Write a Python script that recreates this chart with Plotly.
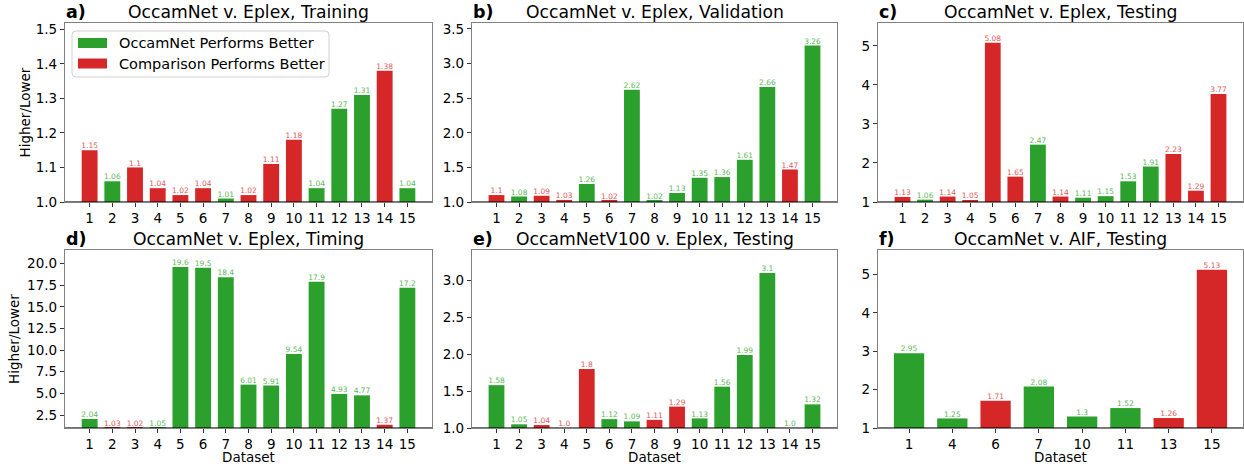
import plotly.graph_objects as go

# ---------------- data ----------------
datasets = list(range(1, 16))

train_vals = [1.15, 1.06, 1.1, 1.04, 1.02, 1.04, 1.01, 1.02, 1.11, 1.18, 1.04, 1.27, 1.31, 1.38, 1.04]
train_better = [0, 1, 0, 0, 0, 0, 1, 0, 0, 0, 1, 1, 1, 0, 1]

val_vals = [1.1, 1.08, 1.09, 1.03, 1.26, 1.02, 2.62, 1.02, 1.13, 1.35, 1.36, 1.61, 2.66, 1.47, 3.26]
val_better = [0, 1, 0, 0, 1, 0, 1, 1, 1, 1, 1, 1, 1, 0, 1]

test_vals = [1.13, 1.06, 1.14, 1.05, 5.08, 1.65, 2.47, 1.14, 1.11, 1.15, 1.53, 1.91, 2.23, 1.29, 3.77]
test_better = [0, 1, 0, 0, 0, 0, 1, 0, 1, 1, 1, 1, 0, 0, 0]

time_vals = [2.04, 1.03, 1.02, 1.05, 19.6, 19.5, 18.4, 6.01, 5.91, 9.54, 17.9, 4.93, 4.77, 1.37, 17.2]
time_better = [1, 0, 0, 1, 1, 1, 1, 1, 1, 1, 1, 1, 1, 0, 1]

v100_vals = [1.58, 1.05, 1.04, 1.0, 1.8, 1.12, 1.09, 1.11, 1.29, 1.13, 1.56, 1.99, 3.1, 1.0, 1.32]
v100_better = [1, 1, 0, 0, 0, 1, 1, 0, 0, 1, 1, 1, 1, 1, 1]

aif_datasets = [1, 4, 6, 7, 10, 11, 13, 15]
aif_vals = [2.95, 1.25, 1.71, 2.08, 1.3, 1.52, 1.26, 5.13]
aif_better = [1, 1, 0, 1, 1, 1, 0, 0]

titles = ["OccamNet v. Eplex, Training", "OccamNet v. Eplex, Validation",
          "OccamNet v. Eplex, Testing", "OccamNet v. Eplex, Timing",
          "OccamNetV100 v. Eplex, Testing", "OccamNet v. AIF, Testing"]
letters = ["a)", "b)", "c)", "d)", "e)", "f)"]
legend_names = ["OccamNet Performs Better", "Comparison Performs Better"]
ylabel = "Higher/Lower"
xlabel = "Dataset"

# ---------------- style ----------------
W, H = 1244, 467
GREEN, RED = "#2ca02c", "#d62728"
GREEN_T, RED_T = "#5cb85c", "#e05a5b"
FONT = "DejaVu Sans"
TICK_FS = 13.5

# pixel boxes (left, right, top, bottom)
cols = [(65, 432), (472, 837), (878, 1243)]
rows = [(23, 202), (250, 428)]
ylabel_x = [24, 14]

panels = [
    (datasets, train_vals, train_better, dict(dtick=0.1, tickformat=".1f")),
    (datasets, val_vals, val_better, dict(dtick=0.5, tickformat=".1f")),
    (datasets, test_vals, test_better, dict(dtick=1, tickformat="d")),
    (datasets, time_vals, time_better, dict(tick0=0, dtick=2.5, tickformat=".1f")),
    (datasets, v100_vals, v100_better, dict(dtick=0.5, tickformat=".1f")),
    (aif_datasets, aif_vals, aif_better, dict(dtick=1, tickformat="d")),
]


def py(p):
    return 1 - p / H


def pxx(p):
    return p / W


fig = go.Figure()
layout = dict(width=W, height=H, margin=dict(l=0, r=0, t=0, b=0, autoexpand=False),
              plot_bgcolor="white", paper_bgcolor="white", template="none",
              barmode="overlay", font=dict(family=FONT, color="black"),
              showlegend=False)
annotations = []
shapes = []

for i, (xs, vals, better, yfmt) in enumerate(panels):
    r, c = divmod(i, 3)
    xl, xr = cols[c]
    yt, yb = rows[r]
    sfx = "" if i == 0 else str(i + 1)
    xa, ya = "x" + sfx, "y" + sfx

    if i == 5:
        pos = list(range(len(xs)))
        xrange = [-0.35 - 0.3675, len(xs) - 1 + 0.35 + 0.3675]
    else:
        pos = list(xs)
        xrange = [0.65 - 0.735, 15.35 + 0.735]

    for flag, color, tcolor, name in [(1, GREEN, GREEN_T, legend_names[0]),
                                      (0, RED, RED_T, legend_names[1])]:
        px_ = [p for p, b in zip(pos, better) if b == flag]
        py_ = [v for v, b in zip(vals, better) if b == flag]
        fig.add_trace(go.Bar(x=px_, y=[v - 1 for v in py_], base=1, width=0.7,
                             marker=dict(color=color, line=dict(width=0)),
                             name=name, xaxis=xa, yaxis=ya))
        fig.add_trace(go.Scatter(x=px_, y=py_, mode="text",
                                 text=[str(v) for v in py_],
                                 textposition="top center",
                                 textfont=dict(size=7.5, color=tcolor, family=FONT),
                                 cliponaxis=False, xaxis=xa, yaxis=ya))

    ymax = max(vals) * 1.1
    axkey = "xaxis" + sfx
    aykey = "yaxis" + sfx
    layout[axkey] = dict(domain=[xl / W, xr / W], anchor=ya, range=xrange,
                         tickvals=pos, ticktext=[str(d) for d in xs],
                         showline=True, mirror=True, linecolor="#808080", linewidth=1.3,
                         ticks="outside", ticklen=3.5, tickcolor="#333",
                         tickfont=dict(size=TICK_FS, family=FONT, color="black"),
                         showgrid=False, zeroline=False, fixedrange=True, automargin=False)
    layout[aykey] = dict(domain=[1 - yb / H, 1 - yt / H], anchor=xa, range=[1, ymax],
                         showline=True, mirror=True, linecolor="#808080", linewidth=1.3,
                         ticks="outside", ticklen=4, tickcolor="#333",
                         tickfont=dict(size=TICK_FS, family=FONT, color="black"),
                         showgrid=False, zeroline=False, fixedrange=True, automargin=False,
                         **yfmt)
    if c == 0:
        annotations.append(dict(text=ylabel, x=pxx(ylabel_x[r]), y=py((yt + yb) / 2),
                                xref="paper", yref="paper", xanchor="center", yanchor="middle",
                                textangle=-90, showarrow=False,
                                font=dict(size=13.5, family=FONT)))
    if r == 1:
        annotations.append(dict(text=xlabel, x=pxx((xl + xr) / 2), y=py(466.8),
                                xref="paper", yref="paper", xanchor="center", yanchor="bottom",
                                showarrow=False, font=dict(size=13.5, family=FONT)))

    # dark baseline at y=1
    shapes.append(dict(type="line", xref=xa + " domain", yref=ya, x0=0, x1=1, y0=1, y1=1,
                       line=dict(color="rgba(0,0,0,0.55)", width=2.2), layer="above"))

    ty = yt - 11
    annotations.append(dict(text="<b>" + letters[i] + "</b>", x=pxx(xl - 1), y=py(ty),
                            xref="paper", yref="paper", xanchor="left", yanchor="middle",
                            showarrow=False, font=dict(size=17.5, family=FONT)))
    annotations.append(dict(text=titles[i], x=pxx((xl + xr) / 2), y=py(ty),
                            xref="paper", yref="paper", xanchor="center", yanchor="middle",
                            showarrow=False, font=dict(size=17.2, family=FONT)))

# ---- custom legend (matplotlib style) in panel a ----
lx0, lx1, ly0, ly1, rad = 72, 329, 31, 77, 4
path = (f"M {pxx(lx0 + rad)} {py(ly0)} L {pxx(lx1 - rad)} {py(ly0)} "
        f"Q {pxx(lx1)} {py(ly0)} {pxx(lx1)} {py(ly0 + rad)} "
        f"L {pxx(lx1)} {py(ly1 - rad)} Q {pxx(lx1)} {py(ly1)} {pxx(lx1 - rad)} {py(ly1)} "
        f"L {pxx(lx0 + rad)} {py(ly1)} Q {pxx(lx0)} {py(ly1)} {pxx(lx0)} {py(ly1 - rad)} "
        f"L {pxx(lx0)} {py(ly0 + rad)} Q {pxx(lx0)} {py(ly0)} {pxx(lx0 + rad)} {py(ly0)} Z")
shapes.append(dict(type="path", xref="paper", yref="paper", path=path,
                   fillcolor="rgba(255,255,255,0.8)", line=dict(color="#d0d0d0", width=1),
                   layer="above"))
for k, (name, color) in enumerate(zip(legend_names, [GREEN, RED])):
    cy = 43 + 20.5 * k
    shapes.append(dict(type="rect", xref="paper", yref="paper",
                       x0=pxx(78), x1=pxx(107), y0=py(cy - 5), y1=py(cy + 5),
                       fillcolor=color, line=dict(width=0), layer="above"))
    annotations.append(dict(text=name, x=pxx(117), y=py(cy), xref="paper", yref="paper",
                            xanchor="left", yanchor="middle", showarrow=False,
                            font=dict(size=14.5, family=FONT)))

layout["annotations"] = annotations
layout["shapes"] = shapes
fig.update_layout(**layout)
fig.write_html("out.html", config={"displayModeBar": False},
               post_script="document.body.style.margin='0';document.body.style.overflow='hidden';")
